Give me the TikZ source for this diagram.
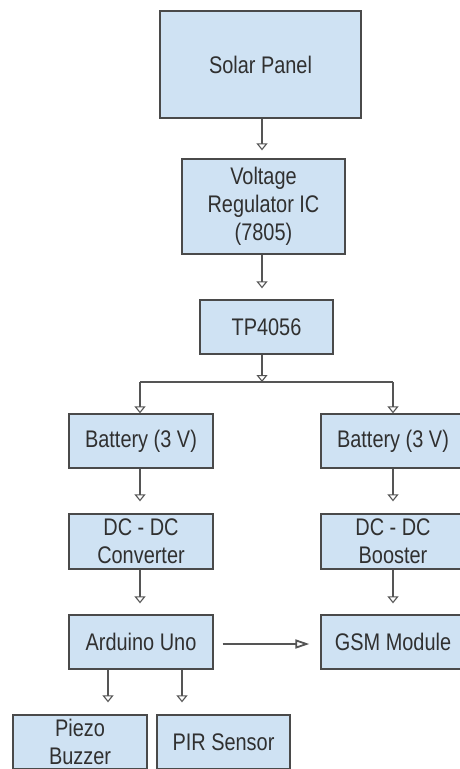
\documentclass[tikz,border=0pt]{standalone}
\usepackage{fontspec}
\usetikzlibrary{arrows.meta}
\newfontfamily\diagfont[FakeStretch=0.83]{Liberation Sans}
\definecolor{boxfill}{HTML}{CFE2F3}
\definecolor{boxline}{HTML}{4A4A4A}
\definecolor{txt}{HTML}{303030}
\definecolor{wire}{HTML}{555555}
\begin{document}
\begin{tikzpicture}[x=1pt,y=-1pt,
  blk/.style={draw=boxline, line width=1.3pt, fill=boxfill, inner sep=0pt,
    align=center, text=txt, font=\diagfont\fontsize{24}{28}\selectfont},
  arr/.style={draw=wire, line width=1.2pt,
    -{Triangle[open, length=7pt, width=11pt, line width=1.1pt]}},
  harr/.style={draw=wire, line width=1.2pt,
    -{Triangle[open, length=14pt, width=9pt, line width=1.8pt]}},
  ln/.style={draw=wire, line width=1.2pt}]
\useasboundingbox[fill=white] (0,0) rectangle (460,769);
\node[blk, minimum width=201pt, minimum height=107pt] (solar) at (260.5,64.5) {Solar Panel};
\node[blk, minimum width=163pt, minimum height=95pt] (vreg) at (263.5,206.5) {Voltage\\Regulator IC\\(7805)};
\node[blk, minimum width=133pt, minimum height=54pt] (tp) at (266.5,327) {TP4056};
\node[blk, minimum width=144pt, minimum height=54pt] (bat1) at (141,441) {Battery (3 V)};
\node[blk, minimum width=144pt, minimum height=54pt] (bat2) at (393,441) {Battery (3 V)};
\node[blk, minimum width=144pt, minimum height=55pt] (dc1) at (141,541.5) {DC - DC\\Converter};
\node[blk, minimum width=144pt, minimum height=55pt] (dc2) at (393,541.5) {DC - DC\\Booster};
\node[blk, minimum width=144pt, minimum height=54pt] (ard) at (141,642) {Arduino Uno};
\node[blk, minimum width=144pt, minimum height=54pt] (gsm) at (393,642) {GSM Module};
\node[blk, minimum width=134pt, minimum height=54pt] (piezo) at (80,742) {Piezo\\Buzzer};
\node[blk, minimum width=133pt, minimum height=54pt] (pir) at (223.5,742) {PIR Sensor};
\coordinate (split) at (262,382);
% top chain
\draw[arr, shorten >=8pt] (solar.south -| split) -- (vreg.north -| split);
\draw[arr, shorten >=11pt] (vreg.south -| split) -- (tp.north -| split);
\draw[arr] (tp.south -| split) -- (split);
\draw[ln] (split) -- (split -| 140,0) coordinate (sl);
\draw[ln] (split) -- (split -| 393,0) coordinate (sr);
\draw[arr] (sl) -- (bat1.north -| sl);
\draw[arr] (sr) -- (bat2.north -| sr);
% left column
\draw[arr, shorten >=12pt] (bat1.south -| sl) -- (dc1.north -| sl);
\draw[arr, shorten >=11pt] (dc1.south -| sl) -- (ard.north -| sl);
% right column
\draw[arr, shorten >=12pt] (bat2.south -| sr) -- (dc2.north -| sr);
\draw[arr, shorten >=11pt] (dc2.south -| sr) -- (gsm.north -| sr);
% Arduino outputs
\draw[harr, shorten <=9pt, shorten >=11pt] (ard.east |- 0,644) -- (gsm.west |- 0,644);
\coordinate (pz) at (108,0);
\coordinate (pr) at (182,0);
\draw[arr, shorten >=12pt] (ard.south -| pz) -- (piezo.north -| pz);
\draw[arr, shorten >=12pt] (ard.south -| pr) -- (pir.north -| pr);
\end{tikzpicture}
\end{document}
